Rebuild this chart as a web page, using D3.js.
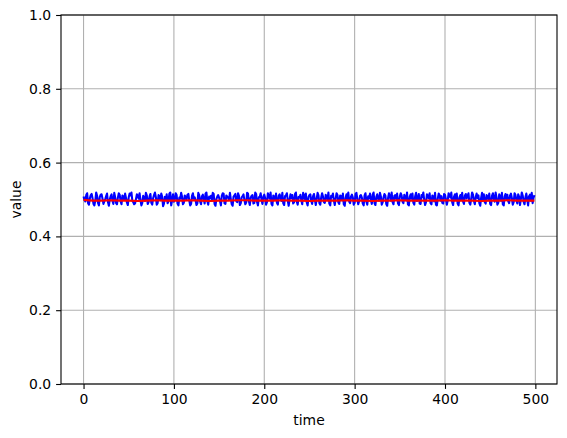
<!DOCTYPE html>
<html>
<head>
<meta charset="utf-8">
<script src="https://cdn.jsdelivr.net/npm/d3@7"></script>
<style>
body { margin: 0; background: #fff; }
text { font-family: "DejaVu Sans", sans-serif; }
</style>
</head>
<body>
<script>
// blue series, one value per time step (0..499)
var signal = [
.508,.499,.495,.512,.517,.490,.486,.503,.512,.515,.503,.488,.484,.497,.519,.510,.491,.484,.507,.513,.514,.502,.488,.495,.501,
.509,.516,.493,.483,.500,.509,.514,.497,.488,.518,.506,.490,.487,.505,.517,.513,.495,.487,.511,.508,.499,.516,.504,.492,.485,
.506,.516,.511,.519,.497,.493,.487,.489,.501,.514,.510,.502,.517,.498,.484,.491,.510,.504,.496,.518,.511,.488,.493,.508,.515,
.491,.486,.503,.512,.519,.507,.486,.490,.512,.509,.498,.516,.508,.482,.489,.507,.501,.514,.490,.495,.516,.519,.484,.498,.514,
.494,.500,.517,.512,.489,.484,.505,.502,.518,.508,.487,.491,.511,.506,.500,.513,.515,.497,.484,.488,.510,.517,.502,.506,.497,
.485,.490,.518,.512,.495,.487,.509,.513,.501,.489,.516,.519,.495,.486,.508,.504,.510,.497,.518,.515,.488,.483,.501,.508,.512,
.505,.496,.484,.510,.517,.516,.490,.488,.511,.508,.504,.499,.518,.501,.487,.483,.508,.511,.515,.496,.493,.517,.510,.485,.490,
.506,.509,.514,.499,.487,.492,.518,.516,.495,.485,.505,.510,.512,.489,.491,.519,.515,.493,.484,.506,.507,.517,.498,.488,.508,
.513,.504,.486,.493,.517,.509,.502,.519,.488,.484,.511,.507,.499,.516,.491,.486,.510,.514,.503,.496,.518,.490,.485,.509,.511,
.517,.497,.483,.500,.514,.504,.512,.489,.493,.515,.519,.494,.486,.507,.505,.513,.498,.487,.518,.510,.501,.516,.492,.484,.507,
.512,.514,.496,.488,.509,.515,.499,.485,.502,.518,.511,.490,.486,.506,.517,.508,.493,.491,.513,.504,.500,.519,.489,.484,.510,
.507,.516,.497,.485,.503,.517,.512,.492,.488,.511,.509,.498,.516,.487,.483,.505,.514,.501,.519,.494,.490,.508,.513,.506,.486,
.491,.515,.518,.500,.487,.496,.510,.512,.505,.489,.484,.511,.517,.494,.486,.509,.503,.516,.499,.488,.513,.519,.490,.485,.507,
.514,.502,.497,.518,.509,.486,.492,.506,.515,.511,.488,.483,.504,.517,.508,.497,.519,.493,.487,.510,.512,.501,.516,.489,.485,
.508,.517,.511,.494,.490,.513,.505,.498,.519,.487,.484,.507,.514,.502,.516,.491,.486,.509,.518,.496,.500,.515,.489,.488,.512,
.506,.519,.499,.485,.493,.514,.510,.503,.517,.490,.487,.511,.508,.495,.518,.486,.484,.502,.516,.512,.497,.509,.491,.489,.515,
.513,.501,.486,.497,.517,.511,.505,.519,.492,.485,.508,.514,.500,.516,.489,.484,.506,.512,.498,.518,.494,.488,.510,.515,.503,
.509,.517,.491,.486,.502,.519,.513,.496,.487,.507,.516,.504,.511,.490,.483,.505,.518,.499,.514,.493,.489,.512,.508,.500,.516,
.488,.485,.510,.517,.503,.494,.519,.506,.486,.491,.514,.509,.497,.518,.487,.484,.508,.515,.501,.513,.495,.490,.511,.516,.504,
.486,.493,.517,.512,.498,.489,.514,.508,.485,.502,.519,.511,.494,.487,.506,.516,.500,.484,.509,.513,.497,.518,.490,.505,.512
];
// red series, one value every 10 time steps
var smooth = [
.499,.497,.497,.498,.497,.497,.496,.497,.498,.497,
.497,.497,.498,.497,.496,.497,.497,.498,.498,.497,
.497,.497,.498,.497,.497,.496,.497,.497,.497,.498,
.497,.497,.496,.497,.497,.498,.497,.497,.497,.497,
.498,.497,.497,.497,.496,.497,.497,.498,.497,.497,.497
];
var xTicks = [0, 100, 200, 300, 400, 500];
var yTicks = [0, 0.2, 0.4, 0.6, 0.8, 1.0];

var width = 567, height = 438;
var plotL = 61, plotR = 557, plotT = 15, plotB = 384;

var svg = d3.select("body").append("svg").attr("width", width).attr("height", height);

var x = d3.scaleLinear().domain([-24.95, 523.95]).range([plotL, plotR]);
var y = d3.scaleLinear().domain([0, 1]).range([plotB, plotT]);

// grid
svg.append("g").selectAll("line").data(xTicks).enter().append("line")
	.attr("x1", function (d) { return x(d); }).attr("x2", function (d) { return x(d); })
	.attr("y1", plotT).attr("y2", plotB)
	.attr("stroke", "#b0b0b0").attr("stroke-width", 1.1);
svg.append("g").selectAll("line").data(yTicks).enter().append("line")
	.attr("y1", function (d) { return y(d); }).attr("y2", function (d) { return y(d); })
	.attr("x1", plotL).attr("x2", plotR)
	.attr("stroke", "#b0b0b0").attr("stroke-width", 1.1);

var blueLine = d3.line().x(function (d, i) { return x(i); }).y(function (d) { return y(d); });
var redLine = d3.line().x(function (d, i) { return x(Math.min(i * 10, 499)); }).y(function (d) { return y(d); });

svg.append("path").attr("d", blueLine(signal)).attr("fill", "none")
	.attr("stroke", "#0000ff").attr("stroke-width", 2.08).attr("stroke-linejoin", "round");
svg.append("path").attr("d", redLine(smooth)).attr("fill", "none")
	.attr("stroke", "#ff0000").attr("stroke-width", 2.08).attr("stroke-linejoin", "round");

// axes
var xAxis = svg.append("g").attr("transform", "translate(0," + plotB + ")")
	.call(d3.axisBottom(x).tickValues(xTicks).tickSize(4.9).tickPadding(4.9).tickFormat(d3.format("d")));
var yAxis = svg.append("g").attr("transform", "translate(" + plotL + ",0)")
	.call(d3.axisLeft(y).tickValues(yTicks).tickSize(4.9).tickPadding(4.9).tickFormat(d3.format(".1f")));
[xAxis, yAxis].forEach(function (a) {
	a.select(".domain").remove();
	a.selectAll("text").style("font-size", "13.9px").attr("fill", "#000").style("font-family", "DejaVu Sans");
	a.selectAll("line").attr("stroke", "#000").attr("stroke-width", 1.1);
});

svg.append("rect").attr("x", plotL).attr("y", plotT).attr("width", plotR - plotL).attr("height", plotB - plotT)
	.attr("fill", "none").attr("stroke", "#000").attr("stroke-width", 1.1);

svg.append("text").attr("x", (plotL + plotR) / 2).attr("y", 425).attr("text-anchor", "middle")
	.style("font-size", "13.9px").text("time");
svg.append("text").attr("transform", "translate(21," + ((plotT + plotB) / 2) + ") rotate(-90)")
	.attr("text-anchor", "middle").style("font-size", "13.9px").text("value");
</script>
</body>
</html>
